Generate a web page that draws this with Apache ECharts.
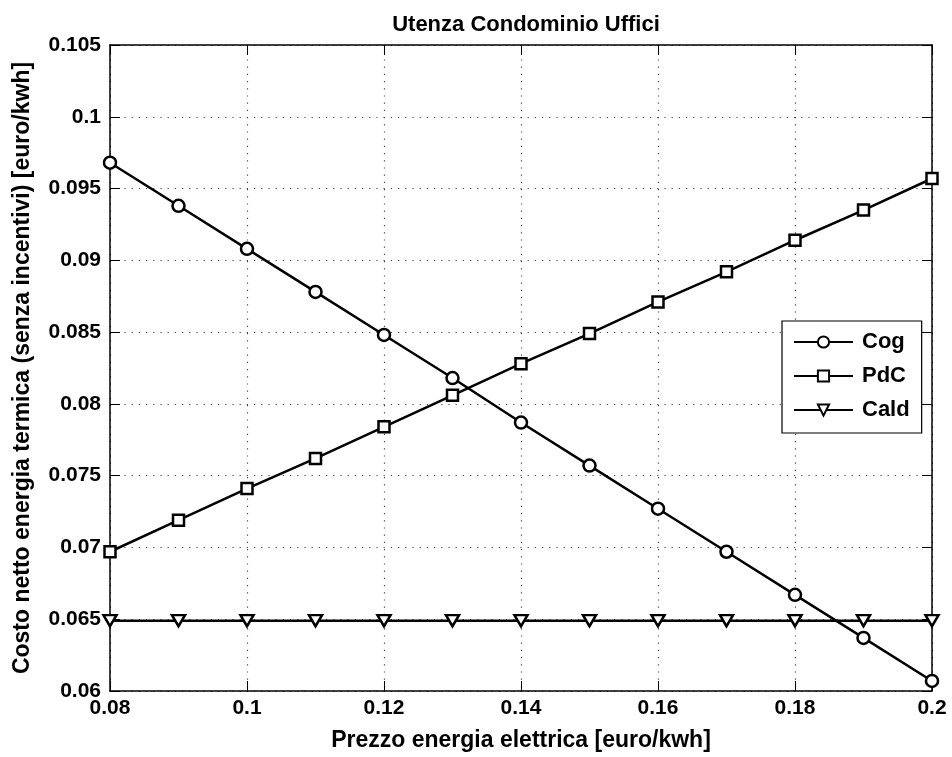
<!DOCTYPE html>
<html><head><meta charset="utf-8">
<script src="https://cdn.jsdelivr.net/npm/echarts@6/dist/echarts.min.js"></script>
<style>html,body{margin:0;padding:0;background:#fff}#c{width:952px;height:757px}</style>
</head><body><div id="c"></div>
<script>
const xValues = [0.08, 0.09, 0.10, 0.11, 0.12, 0.13, 0.14, 0.15, 0.16, 0.17, 0.18, 0.19, 0.20];
const cog  = [0.0968, 0.0938, 0.0908, 0.0878, 0.0848, 0.0818, 0.0787, 0.0757, 0.0727, 0.0697, 0.0667, 0.0637, 0.0607];
const pdc  = [0.0697, 0.0719, 0.0741, 0.0762, 0.0784, 0.0806, 0.0828, 0.0849, 0.0871, 0.0892, 0.0914, 0.0935, 0.0957];
const cald = [0.0649, 0.0649, 0.0649, 0.0649, 0.0649, 0.0649, 0.0649, 0.0649, 0.0649, 0.0649, 0.0649, 0.0649, 0.0649];
const titleText = 'Utenza Condominio Uffici';
const xName = 'Prezzo energia elettrica [euro/kwh]';
const yName = 'Costo netto energia termica (senza incentivi) [euro/kwh]';

const FONT = "'Liberation Sans', Arial, Helvetica, sans-serif";
const pairs = arr => arr.map((v, i) => [xValues[i], v]);
const lineStyle = {color: '#000', width: 2.5};
const itemStyle = {color: '#fff', borderColor: '#000', borderWidth: 2.5};
const gridLine = {show: true, lineStyle: {color: '#444', width: 1.2, type: [1.2, 6]}};
const axisLine = {show: true, lineStyle: {color: '#000', width: 1.5}};
const tick = {show: true, inside: true, length: 10, lineStyle: {color: '#000', width: 1}};
const lbl = {color: '#000', fontFamily: FONT, fontWeight: 'bold', fontSize: 21};

const chart = echarts.init(document.getElementById('c'), null, {renderer: 'canvas'});
chart.setOption({
  animation: false,
  backgroundColor: '#fff',
  title: {text: titleText, left: 521, top: 9, textAlign: 'center',
    textStyle: {color: '#000', fontFamily: FONT, fontWeight: 'bold', fontSize: 22}},
  grid: {left: 110, right: 20, top: 45, bottom: 64, containLabel: false},
  legend: {
    orient: 'vertical', left: 782, top: 321,
    padding: [8, 12, 10, 11], itemGap: 8, itemWidth: 59, itemHeight: 14,
    backgroundColor: '#fff', borderColor: '#000', borderWidth: 1.2,
    textStyle: {color: '#000', fontFamily: FONT, fontWeight: 'bold', fontSize: 22, lineHeight: 22, padding: [4, 0, 0, 4]},
    data: ['Cog', 'PdC', 'Cald']
  },
  xAxis: [{
    type: 'value', min: 0.08, max: 0.2, interval: 0.02,
    name: xName, nameLocation: 'middle', nameGap: 38,
    nameTextStyle: {color: '#000', fontFamily: FONT, fontWeight: 'bold', fontSize: 23},
    axisLine: axisLine, axisTick: tick, splitLine: gridLine,
    axisLabel: Object.assign({margin: 7}, lbl)
  }, {
    type: 'value', position: 'top', min: 0.08, max: 0.2, interval: 0.02,
    axisLine: axisLine, axisTick: tick, splitLine: {show: false}, axisLabel: {show: false}
  }],
  yAxis: [{
    type: 'value', min: 0.06, max: 0.105, interval: 0.005,
    name: yName, nameLocation: 'middle', nameGap: 76,
    nameTextStyle: {color: '#000', fontFamily: FONT, fontWeight: 'bold', fontSize: 23},
    axisLine: axisLine, axisTick: tick, splitLine: gridLine,
    axisLabel: Object.assign({margin: 9}, lbl)
  }, {
    type: 'value', position: 'right', min: 0.06, max: 0.105, interval: 0.005,
    axisLine: axisLine, axisTick: tick, splitLine: {show: false}, axisLabel: {show: false}
  }],
  series: [
    {name: 'Cog', type: 'line', data: pairs(cog), symbol: 'circle', symbolSize: 12,
     lineStyle: lineStyle, itemStyle: itemStyle, z: 3},
    {name: 'PdC', type: 'line', data: pairs(pdc), symbol: 'rect', symbolSize: 11,
     lineStyle: lineStyle, itemStyle: itemStyle, z: 3},
    {name: 'Cald', type: 'line', data: pairs(cald), symbol: 'triangle', symbolRotate: 180, symbolSize: [13, 11],
     lineStyle: lineStyle, itemStyle: itemStyle, z: 3}
  ]
});
</script></body></html>
